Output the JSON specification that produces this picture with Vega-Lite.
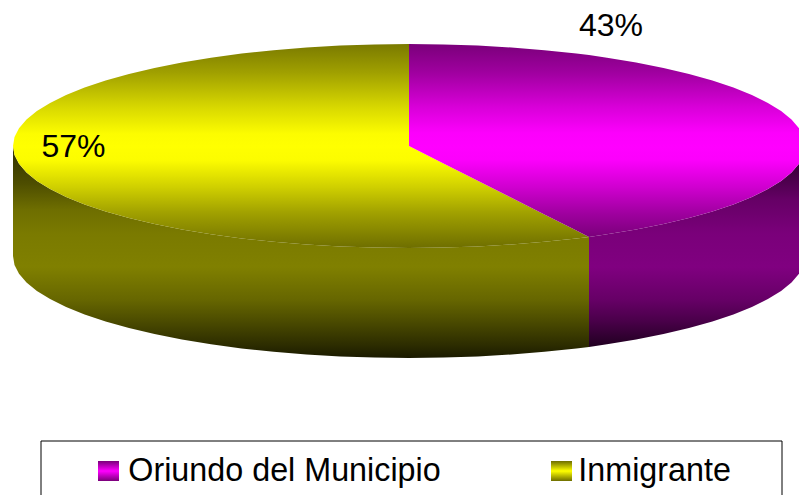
{
"$schema":"https://vega.github.io/schema/vega-lite/v6.json",
"width":799,"height":495,"padding":0,"autosize":{"type":"none"},"background":"white",
"config":{"view":{"stroke":null},"font":"Liberation Sans"},
"datasets":{
"top":[
{"s":"Inmigrante","x":13,"y":146,"y2":146},{"s":"Inmigrante","x":14.5,"y":137.1,"y2":154.9},{"s":"Inmigrante","x":19,"y":128.3,"y2":163.7},{"s":"Inmigrante","x":26.5,"y":119.6,"y2":172.4},{"s":"Inmigrante","x":36.9,"y":111.1,"y2":180.9},{"s":"Inmigrante","x":50.1,"y":102.9,"y2":189.1},{"s":"Inmigrante","x":66.1,"y":95,"y2":197},{"s":"Inmigrante","x":84.6,"y":87.5,"y2":204.5},{"s":"Inmigrante","x":105.6,"y":80.4,"y2":211.6},{"s":"Inmigrante","x":129,"y":73.9,"y2":218.1},{"s":"Inmigrante","x":154.5,"y":67.9,"y2":224.1},{"s":"Inmigrante","x":181.9,"y":62.4,"y2":229.6},{"s":"Inmigrante","x":211,"y":57.7,"y2":234.3},{"s":"Inmigrante","x":241.6,"y":53.6,"y2":238.4},{"s":"Inmigrante","x":273.6,"y":50.2,"y2":241.8},{"s":"Inmigrante","x":306.5,"y":47.5,"y2":244.5},{"s":"Inmigrante","x":340.2,"y":45.5,"y2":246.5},{"s":"Inmigrante","x":374.5,"y":44.4,"y2":247.6},{"s":"Inmigrante","x":409,"y":44,"y2":248},{"s":"Inmigrante","x":409,"y":146,"y2":248},{"s":"Inmigrante","x":443.5,"y":163.4,"y2":247.6},{"s":"Inmigrante","x":477.8,"y":180.8,"y2":246.5},{"s":"Inmigrante","x":511.5,"y":197.8,"y2":244.5},{"s":"Inmigrante","x":544.4,"y":214.5,"y2":241.8},{"s":"Inmigrante","x":576.4,"y":230.6,"y2":238.4},{"s":"Inmigrante","x":589,"y":237,"y2":237},
{"s":"Oriundo del Municipio","x":409,"y":44,"y2":146},{"s":"Oriundo del Municipio","x":443.5,"y":44.4,"y2":163.4},{"s":"Oriundo del Municipio","x":477.8,"y":45.5,"y2":180.8},{"s":"Oriundo del Municipio","x":511.5,"y":47.5,"y2":197.8},{"s":"Oriundo del Municipio","x":544.4,"y":50.2,"y2":214.5},{"s":"Oriundo del Municipio","x":576.4,"y":53.6,"y2":230.6},{"s":"Oriundo del Municipio","x":589,"y":55.1,"y2":237},{"s":"Oriundo del Municipio","x":607,"y":57.7,"y2":234.3},{"s":"Oriundo del Municipio","x":636.1,"y":62.4,"y2":229.6},{"s":"Oriundo del Municipio","x":663.5,"y":67.9,"y2":224.1},{"s":"Oriundo del Municipio","x":689,"y":73.9,"y2":218.1},{"s":"Oriundo del Municipio","x":712.4,"y":80.4,"y2":211.6},{"s":"Oriundo del Municipio","x":733.4,"y":87.5,"y2":204.5},{"s":"Oriundo del Municipio","x":751.9,"y":95,"y2":197},{"s":"Oriundo del Municipio","x":767.9,"y":102.9,"y2":189.1},{"s":"Oriundo del Municipio","x":781.1,"y":111.1,"y2":180.9},{"s":"Oriundo del Municipio","x":791.5,"y":119.6,"y2":172.4},{"s":"Oriundo del Municipio","x":799,"y":128.3,"y2":163.7}
],
"sideY":[
{"x":13,"y":146,"y2":256},{"x":14.5,"y":154.9,"y2":264.9},{"x":19,"y":163.7,"y2":273.7},{"x":26.5,"y":172.4,"y2":282.4},{"x":36.9,"y":180.9,"y2":290.9},{"x":50.1,"y":189.1,"y2":299.1},{"x":66.1,"y":197,"y2":307},{"x":84.6,"y":204.5,"y2":314.5},{"x":105.6,"y":211.6,"y2":321.6},{"x":129,"y":218.1,"y2":328.1},{"x":154.5,"y":224.1,"y2":334.1},{"x":181.9,"y":229.6,"y2":339.6},{"x":211,"y":234.3,"y2":344.3},{"x":241.6,"y":238.4,"y2":348.4},{"x":273.6,"y":241.8,"y2":351.8},{"x":306.5,"y":244.5,"y2":354.5},{"x":340.2,"y":246.5,"y2":356.5},{"x":374.5,"y":247.6,"y2":357.6},{"x":409,"y":248,"y2":358},{"x":443.5,"y":247.6,"y2":357.6},{"x":477.8,"y":246.5,"y2":356.5},{"x":511.5,"y":244.5,"y2":354.5},{"x":544.4,"y":241.8,"y2":351.8},{"x":576.4,"y":238.4,"y2":348.4},{"x":589,"y":237,"y2":346.9}
],
"sideM":[
{"x":589,"y":237,"y2":346.9},{"x":607,"y":234.3,"y2":344.3},{"x":636.1,"y":229.6,"y2":339.6},{"x":663.5,"y":224.1,"y2":334.1},{"x":689,"y":218.1,"y2":328.1},{"x":712.4,"y":211.6,"y2":321.6},{"x":733.4,"y":204.5,"y2":314.5},{"x":751.9,"y":197,"y2":307},{"x":767.9,"y":189.1,"y2":299.1},{"x":781.1,"y":180.9,"y2":290.9},{"x":791.5,"y":172.4,"y2":282.4},{"x":799,"y":163.7,"y2":273.7}
],
"labels":[{"label":"43%","x":611,"y":36},{"label":"57%","x":73.5,"y":157}],
"box":[{"x":41,"x2":782,"y":441,"y2":498}],
"keyM":[{"x":98,"x2":119,"y":461,"y2":481}],
"keyY":[{"x":551,"x2":572,"y":461,"y2":481}]
},
"layer":[
{"data":{"name":"box"},"mark":{"type":"rect","fill":null,"stroke":"black","strokeWidth":1},
"encoding":{"x":{"field":"x","type":"quantitative","scale":{"domain":[0,799],"nice":false,"zero":false},"axis":null},"x2":{"field":"x2"},"y":{"field":"y","type":"quantitative","scale":{"domain":[495,0],"nice":false,"zero":false},"axis":null},"y2":{"field":"y2"}}},
{"data":{"name":"sideY"},"mark":{"type":"area","orient":"vertical","fill":{"gradient":"linear","x1":0,"y1":0,"x2":0,"y2":1,"stops":[{"offset":0.02,"color":"#333300"},{"offset":0.175,"color":"#4d4d00"},{"offset":0.3,"color":"#6e6e00"},{"offset":0.41,"color":"#7a7a00"},{"offset":0.57,"color":"#808000"},{"offset":0.726,"color":"#666600"},{"offset":0.82,"color":"#4d4d00"},{"offset":0.948,"color":"#2a2a00"},{"offset":1,"color":"#1a1a00"}]}},
"encoding":{"x":{"field":"x","type":"quantitative"},"y":{"field":"y","type":"quantitative"},"y2":{"field":"y2"}}},
{"data":{"name":"sideM"},"mark":{"type":"area","orient":"vertical","fill":{"gradient":"linear","x1":0,"y1":0,"x2":0,"y2":1,"stops":[{"offset":0.007,"color":"#380038"},{"offset":0.198,"color":"#660066"},{"offset":0.378,"color":"#7a007a"},{"offset":0.564,"color":"#800080"},{"offset":0.744,"color":"#660066"},{"offset":0.857,"color":"#4a004a"},{"offset":1,"color":"#200020"}]}},
"encoding":{"x":{"field":"x","type":"quantitative"},"y":{"field":"y","type":"quantitative"},"y2":{"field":"y2"}}},
{"data":{"name":"top"},"transform":[{"filter":"datum.s=='Inmigrante'"}],"mark":{"type":"area","orient":"vertical","fill":{"gradient":"linear","x1":0,"y1":0,"x2":0,"y2":1,"stops":[{"offset":0,"color":"#7a7a00"},{"offset":0.14,"color":"#a0a000"},{"offset":0.31,"color":"#d8d800"},{"offset":0.44,"color":"#fcfc00"},{"offset":0.5,"color":"#ffff00"},{"offset":0.57,"color":"#fcfc00"},{"offset":0.7,"color":"#d0d000"},{"offset":0.83,"color":"#a0a000"},{"offset":0.96,"color":"#7a7a00"},{"offset":1,"color":"#6e6e00"}]}},
"encoding":{"x":{"field":"x","type":"quantitative"},"y":{"field":"y","type":"quantitative"},"y2":{"field":"y2"}}},
{"data":{"name":"top"},"transform":[{"filter":"datum.s!='Inmigrante'"}],"mark":{"type":"area","orient":"vertical","fill":{"gradient":"linear","x1":0,"y1":0,"x2":0,"y2":1,"stops":[{"offset":0,"color":"#7a007a"},{"offset":0.15,"color":"#a000a0"},{"offset":0.326,"color":"#d800d8"},{"offset":0.46,"color":"#fc00fc"},{"offset":0.534,"color":"#ff00ff"},{"offset":0.6,"color":"#fc00fc"},{"offset":0.74,"color":"#d000d0"},{"offset":0.876,"color":"#a000a0"},{"offset":1,"color":"#7a007a"}]}},
"encoding":{"x":{"field":"x","type":"quantitative"},"y":{"field":"y","type":"quantitative"},"y2":{"field":"y2"}}},
{"data":{"name":"top"},"mark":{"type":"area","orient":"vertical","opacity":0},
"encoding":{"x":{"field":"x","type":"quantitative"},"y":{"field":"y","type":"quantitative"},"y2":{"field":"y2"},
"color":{"field":"s","type":"nominal","sort":["Oriundo del Municipio","Inmigrante"],
"scale":{"domain":["Oriundo del Municipio","Inmigrante"],"range":["#ff00ff","#ffff00"]},
"legend":{"title":null,"orient":"none","legendX":92,"legendY":455,"columns":2,"columnPadding":101,"padding":0,"symbolType":"square","symbolSize":441,"symbolStrokeWidth":0,"symbolOpacity":0,"labelFontSize":32.3,"labelFont":"Liberation Sans","labelColor":"black","labelOffset":4,"labelLimit":0}}}},
{"data":{"name":"keyM"},"mark":{"type":"rect","fill":{"gradient":"linear","x1":0,"y1":0,"x2":0,"y2":1,"stops":[{"offset":0,"color":"#7a007a"},{"offset":0.5,"color":"#ff00ff"},{"offset":1,"color":"#7a007a"}]}},
"encoding":{"x":{"field":"x","type":"quantitative"},"x2":{"field":"x2"},"y":{"field":"y","type":"quantitative"},"y2":{"field":"y2"}}},
{"data":{"name":"keyY"},"mark":{"type":"rect","fill":{"gradient":"linear","x1":0,"y1":0,"x2":0,"y2":1,"stops":[{"offset":0,"color":"#6e6e00"},{"offset":0.5,"color":"#ffff00"},{"offset":1,"color":"#6e6e00"}]}},
"encoding":{"x":{"field":"x","type":"quantitative"},"x2":{"field":"x2"},"y":{"field":"y","type":"quantitative"},"y2":{"field":"y2"}}},
{"data":{"name":"labels"},"mark":{"type":"text","font":"Liberation Sans","fontSize":32,"color":"black","align":"center","baseline":"alphabetic"},
"encoding":{"x":{"field":"x","type":"quantitative"},"y":{"field":"y","type":"quantitative"},"text":{"field":"label"}}}
]
}
